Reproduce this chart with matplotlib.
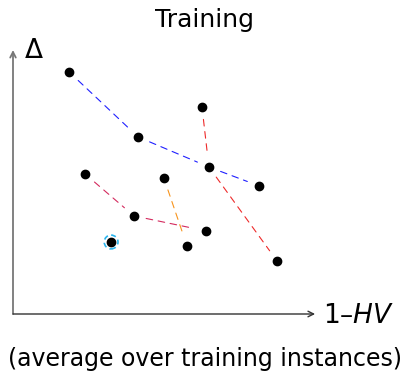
import matplotlib.pyplot as plt
from matplotlib.patches import Circle

# point coordinates (1-HV, Delta), arbitrary units
labels = ["A", "B", "C", "D", "E", "F", "G", "H", "I", "J", "K", "L"]
hv = [1.87, 4.17, 6.30, 6.53, 8.20, 2.40, 5.03, 4.03, 6.43, 5.80, 3.27, 8.80]
delta = [8.07, 5.90, 6.90, 4.90, 4.27, 4.67, 4.53, 3.27, 2.77, 2.27, 2.40, 1.77]

# dashed paths between points
paths = [
    (["A", "B", "D", "E"], "#1f1fff"),
    (["C", "D", "L"], "#ee2a2a"),
    (["F", "H", "I"], "#d42a5e"),
    (["G", "J"], "#f7941d"),
]
highlight = "K"
highlight_color = "#2ab5ee"

pts = {k: (x, y) for k, x, y in zip(labels, hv, delta)}

plt.rcParams["font.family"] = "DejaVu Sans"
plt.rcParams["mathtext.fontset"] = "dejavusans"

W, H = 410, 376
fig = plt.figure(figsize=(W / 100, H / 100), dpi=100)
ax = fig.add_axes([0, 0, 1, 1])
ax.set_xlim(-13 / 30, (W - 13) / 30)
ax.set_ylim((314 - H) / 30, 314 / 30)
ax.axis("off")

# axes arrows
ax.annotate("", xy=(0, 8.8), xytext=(0, 0),
            arrowprops=dict(arrowstyle="->", color="#777777", lw=1.3,
                            shrinkA=0, shrinkB=0))
ax.annotate("", xy=(10.07, 0), xytext=(0, 0),
            arrowprops=dict(arrowstyle="->", color="#333333", lw=1.0,
                            shrinkA=0, shrinkB=0))

for names, color in paths:
    for a, b in zip(names[:-1], names[1:]):
        ax.annotate("", xy=pts[b], xytext=pts[a],
                    arrowprops=dict(arrowstyle="-", color=color, lw=0.8,
                                    linestyle=(0, (6, 5)),
                                    shrinkA=9, shrinkB=9))

ax.plot(hv, delta, "o", color="black", ms=6, zorder=3)
ax.add_patch(Circle(pts[highlight], 0.23, fill=False, ec=highlight_color,
                    lw=1.2, ls=(0, (3, 2)), zorder=4))

fig.text(205 / W, 1 - 27 / H, "Training", ha="center", va="baseline", fontsize=18)
fig.text(25 / W, 1 - 58 / H, "Δ", ha="left", va="baseline", fontsize=19)
fig.text(323 / W, 1 - 323 / H, "1–$HV$", ha="left", va="baseline", fontsize=19)
fig.text(205 / W, 1 - 366 / H, "(average over training instances)",
         ha="center", va="baseline", fontsize=17)

fig.savefig("out.png", dpi=100)
